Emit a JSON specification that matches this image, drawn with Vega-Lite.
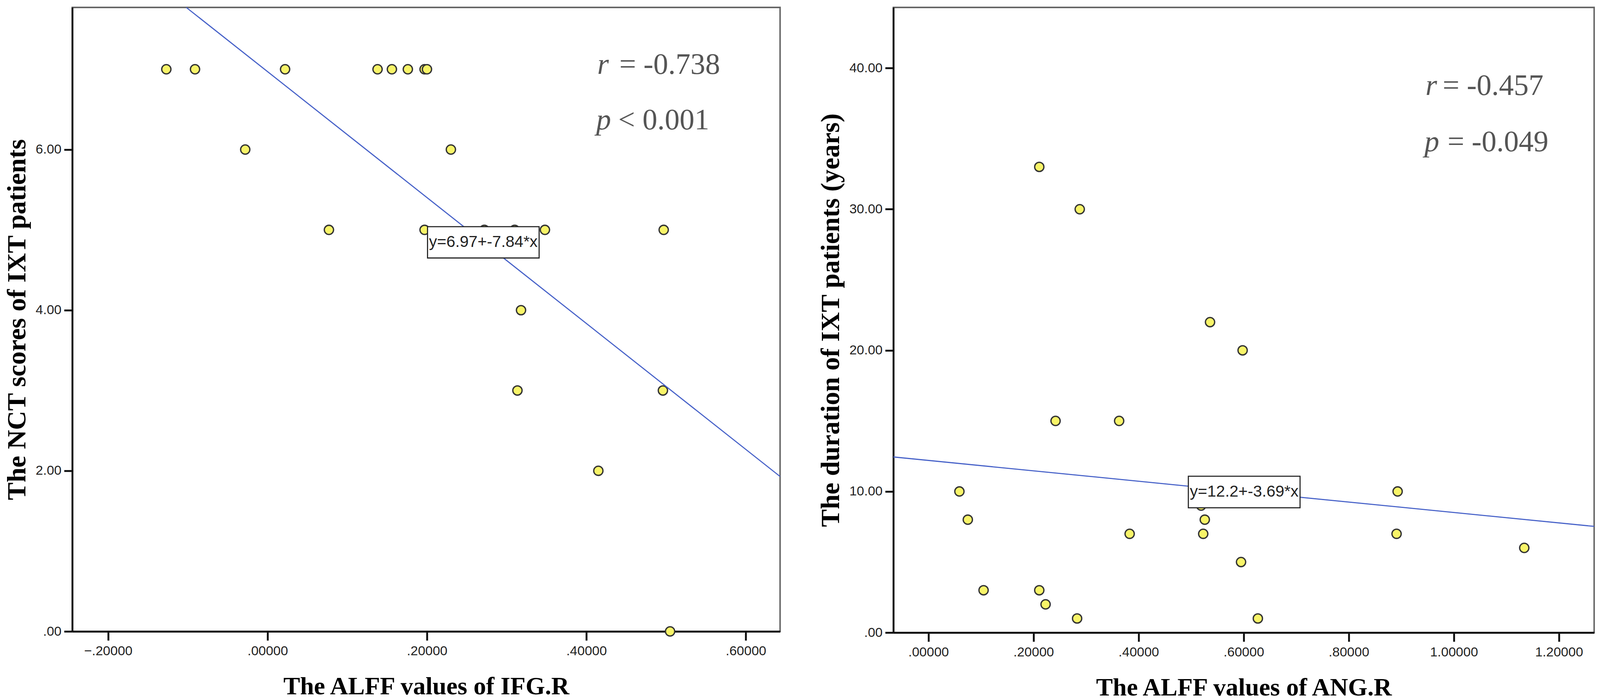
{
  "$schema": "https://vega.github.io/schema/vega-lite/v6.json",
  "padding": {"left": 8, "top": 11, "right": 0, "bottom": 0},
  "background": "white",
  "spacing": 87,
  "datasets": {
    "ifg": [
      {"alff": -0.127, "nct": 7}, {"alff": -0.091, "nct": 7}, {"alff": 0.022, "nct": 7},
      {"alff": 0.138, "nct": 7}, {"alff": 0.156, "nct": 7}, {"alff": 0.176, "nct": 7},
      {"alff": 0.197, "nct": 7}, {"alff": 0.200, "nct": 7},
      {"alff": -0.028, "nct": 6}, {"alff": 0.230, "nct": 6},
      {"alff": 0.077, "nct": 5}, {"alff": 0.197, "nct": 5}, {"alff": 0.272, "nct": 5},
      {"alff": 0.310, "nct": 5}, {"alff": 0.348, "nct": 5}, {"alff": 0.497, "nct": 5},
      {"alff": 0.318, "nct": 4},
      {"alff": 0.3135, "nct": 3}, {"alff": 0.496, "nct": 3},
      {"alff": 0.415, "nct": 2},
      {"alff": 0.505, "nct": 0}
    ],
    "ang": [
      {"alff": 0.211, "years": 33}, {"alff": 0.288, "years": 30}, {"alff": 0.536, "years": 22},
      {"alff": 0.598, "years": 20}, {"alff": 0.242, "years": 15}, {"alff": 0.363, "years": 15},
      {"alff": 0.059, "years": 10}, {"alff": 0.893, "years": 10}, {"alff": 0.519, "years": 9},
      {"alff": 0.075, "years": 8}, {"alff": 0.526, "years": 8}, {"alff": 0.383, "years": 7},
      {"alff": 0.523, "years": 7}, {"alff": 0.891, "years": 7}, {"alff": 1.134, "years": 6},
      {"alff": 0.595, "years": 5}, {"alff": 0.105, "years": 3}, {"alff": 0.211, "years": 3},
      {"alff": 0.223, "years": 2}, {"alff": 0.283, "years": 1}, {"alff": 0.627, "years": 1}
    ],
    "fitIfg": [{"alff": -0.102, "nct": 7.77}, {"alff": 0.643, "nct": 1.929}],
    "fitAng": [{"alff": -0.0667, "years": 12.446}, {"alff": 1.267, "years": 7.525}],
    "one": [{}]
  },
  "hconcat": [
    {
      "width": 1812,
      "height": 1597,
      "layer": [
        {
          "data": {"name": "ifg"},
          "mark": {"type": "circle", "size": 560, "fill": "#F8F468", "stroke": "#333333", "strokeWidth": 3.3, "opacity": 1},
          "encoding": {
            "x": {"field": "alff", "type": "quantitative", "title": "The ALFF values of IFG.R",
              "scale": {"domain": [-0.245, 0.643], "nice": false, "zero": false},
              "axis": {"values": [-0.2, 0, 0.2, 0.4, 0.6],
                "labelExpr": "abs(datum.value) < 1 ? replace(format(datum.value, '.5f'), '0.', '.') : format(datum.value, '.5f')"}},
            "y": {"field": "nct", "type": "quantitative", "title": "The NCT scores of IXT patients",
              "scale": {"domain": [0, 7.77], "nice": false, "zero": false},
              "axis": {"values": [0, 2, 4, 6],
                "labelExpr": "abs(datum.value) < 1 ? replace(format(datum.value, '.2f'), '0.', '.') : format(datum.value, '.2f')"}}
          }
        },
        {
          "data": {"name": "fitIfg"},
          "mark": {"type": "line", "color": "#4560C8", "strokeWidth": 2.8},
          "encoding": {
            "x": {"field": "alff", "type": "quantitative", "title": "The ALFF values of IFG.R", "scale": {"domain": [-0.245, 0.643], "nice": false, "zero": false}},
            "y": {"field": "nct", "type": "quantitative", "title": "The NCT scores of IXT patients", "scale": {"domain": [0, 7.77], "nice": false, "zero": false}}
          }
        },
        {
          "data": {"name": "one"},
          "mark": {"type": "rect", "fill": "white", "stroke": "#222222", "strokeWidth": 2.8},
          "encoding": {
            "x": {"datum": 0.2007, "type": "quantitative", "title": "The ALFF values of IFG.R", "scale": {"domain": [-0.245, 0.643], "nice": false, "zero": false}},
            "x2": {"datum": 0.3407},
            "y": {"datum": 5.04, "type": "quantitative", "title": "The NCT scores of IXT patients", "scale": {"domain": [0, 7.77], "nice": false, "zero": false}},
            "y2": {"datum": 4.65}
          }
        },
        {
          "data": {"name": "one"},
          "mark": {"type": "text", "text": "y=6.97+-7.84*x", "font": "Liberation Sans", "fontSize": 41, "color": "#222222", "align": "center", "baseline": "middle"},
          "encoding": {
            "x": {"datum": 0.2707, "type": "quantitative", "title": "The ALFF values of IFG.R", "scale": {"domain": [-0.245, 0.643], "nice": false, "zero": false}},
            "y": {"datum": 4.845, "type": "quantitative", "title": "The NCT scores of IXT patients", "scale": {"domain": [0, 7.77], "nice": false, "zero": false}}
          }
        },
        {
          "data": {"name": "one"},
          "mark": {"type": "text", "text": "r", "font": "Liberation Serif", "fontStyle": "italic", "fontSize": 76, "color": "#555555", "align": "left", "baseline": "alphabetic"},
          "encoding": {
            "x": {"datum": 0.4136, "type": "quantitative", "title": "The ALFF values of IFG.R", "scale": {"domain": [-0.245, 0.643], "nice": false, "zero": false}},
            "y": {"datum": 6.944, "type": "quantitative", "title": "The NCT scores of IXT patients", "scale": {"domain": [0, 7.77], "nice": false, "zero": false}}
          }
        },
        {
          "data": {"name": "one"},
          "mark": {"type": "text", "text": "= -0.738", "font": "Liberation Serif", "fontSize": 76, "color": "#555555", "align": "left", "baseline": "alphabetic"},
          "encoding": {
            "x": {"datum": 0.4413, "type": "quantitative", "title": "The ALFF values of IFG.R", "scale": {"domain": [-0.245, 0.643], "nice": false, "zero": false}},
            "y": {"datum": 6.944, "type": "quantitative", "title": "The NCT scores of IXT patients", "scale": {"domain": [0, 7.77], "nice": false, "zero": false}}
          }
        },
        {
          "data": {"name": "one"},
          "mark": {"type": "text", "text": "p", "font": "Liberation Serif", "fontStyle": "italic", "fontSize": 76, "color": "#555555", "align": "left", "baseline": "alphabetic"},
          "encoding": {
            "x": {"datum": 0.4123, "type": "quantitative", "title": "The ALFF values of IFG.R", "scale": {"domain": [-0.245, 0.643], "nice": false, "zero": false}},
            "y": {"datum": 6.253, "type": "quantitative", "title": "The NCT scores of IXT patients", "scale": {"domain": [0, 7.77], "nice": false, "zero": false}}
          }
        },
        {
          "data": {"name": "one"},
          "mark": {"type": "text", "text": "< 0.001", "font": "Liberation Serif", "fontSize": 76, "color": "#555555", "align": "left", "baseline": "alphabetic"},
          "encoding": {
            "x": {"datum": 0.440, "type": "quantitative", "title": "The ALFF values of IFG.R", "scale": {"domain": [-0.245, 0.643], "nice": false, "zero": false}},
            "y": {"datum": 6.253, "type": "quantitative", "title": "The NCT scores of IXT patients", "scale": {"domain": [0, 7.77], "nice": false, "zero": false}}
          }
        }
      ]
    },
    {
      "width": 1794,
      "height": 1600,
      "layer": [
        {
          "data": {"name": "ang"},
          "mark": {"type": "circle", "size": 560, "fill": "#F8F468", "stroke": "#333333", "strokeWidth": 3.3, "opacity": 1},
          "encoding": {
            "x": {"field": "alff", "type": "quantitative", "title": "The ALFF values of ANG.R",
              "scale": {"domain": [-0.0667, 1.267], "nice": false, "zero": false},
              "axis": {"values": [0, 0.2, 0.4, 0.6, 0.8, 1.0, 1.2],
                "labelExpr": "abs(datum.value) < 1 ? replace(format(datum.value, '.5f'), '0.', '.') : format(datum.value, '.5f')"}},
            "y": {"field": "years", "type": "quantitative", "title": "The duration of IXT patients (years)",
              "scale": {"domain": [0, 44.3], "nice": false, "zero": false},
              "axis": {"values": [0, 10, 20, 30, 40],
                "labelExpr": "abs(datum.value) < 1 ? replace(format(datum.value, '.2f'), '0.', '.') : format(datum.value, '.2f')"}}
          }
        },
        {
          "data": {"name": "fitAng"},
          "mark": {"type": "line", "color": "#4560C8", "strokeWidth": 2.8},
          "encoding": {
            "x": {"field": "alff", "type": "quantitative", "title": "The ALFF values of ANG.R", "scale": {"domain": [-0.0667, 1.267], "nice": false, "zero": false}},
            "y": {"field": "years", "type": "quantitative", "title": "The duration of IXT patients (years)", "scale": {"domain": [0, 44.3], "nice": false, "zero": false}}
          }
        },
        {
          "data": {"name": "one"},
          "mark": {"type": "rect", "fill": "white", "stroke": "#222222", "strokeWidth": 2.8},
          "encoding": {
            "x": {"datum": 0.4947, "type": "quantitative", "title": "The ALFF values of ANG.R", "scale": {"domain": [-0.0667, 1.267], "nice": false, "zero": false}},
            "x2": {"datum": 0.7073},
            "y": {"datum": 11.08, "type": "quantitative", "title": "The duration of IXT patients (years)", "scale": {"domain": [0, 44.3], "nice": false, "zero": false}},
            "y2": {"datum": 8.84}
          }
        },
        {
          "data": {"name": "one"},
          "mark": {"type": "text", "text": "y=12.2+-3.69*x", "font": "Liberation Sans", "fontSize": 41, "color": "#222222", "align": "center", "baseline": "middle"},
          "encoding": {
            "x": {"datum": 0.601, "type": "quantitative", "title": "The ALFF values of ANG.R", "scale": {"domain": [-0.0667, 1.267], "nice": false, "zero": false}},
            "y": {"datum": 9.96, "type": "quantitative", "title": "The duration of IXT patients (years)", "scale": {"domain": [0, 44.3], "nice": false, "zero": false}}
          }
        },
        {
          "data": {"name": "one"},
          "mark": {"type": "text", "text": "r", "font": "Liberation Serif", "fontStyle": "italic", "fontSize": 76, "color": "#555555", "align": "left", "baseline": "alphabetic"},
          "encoding": {
            "x": {"datum": 0.946, "type": "quantitative", "title": "The ALFF values of ANG.R", "scale": {"domain": [-0.0667, 1.267], "nice": false, "zero": false}},
            "y": {"datum": 38.09, "type": "quantitative", "title": "The duration of IXT patients (years)", "scale": {"domain": [0, 44.3], "nice": false, "zero": false}}
          }
        },
        {
          "data": {"name": "one"},
          "mark": {"type": "text", "text": "= -0.457", "font": "Liberation Serif", "fontSize": 76, "color": "#555555", "align": "left", "baseline": "alphabetic"},
          "encoding": {
            "x": {"datum": 0.9787, "type": "quantitative", "title": "The ALFF values of ANG.R", "scale": {"domain": [-0.0667, 1.267], "nice": false, "zero": false}},
            "y": {"datum": 38.09, "type": "quantitative", "title": "The duration of IXT patients (years)", "scale": {"domain": [0, 44.3], "nice": false, "zero": false}}
          }
        },
        {
          "data": {"name": "one"},
          "mark": {"type": "text", "text": "p", "font": "Liberation Serif", "fontStyle": "italic", "fontSize": 76, "color": "#555555", "align": "left", "baseline": "alphabetic"},
          "encoding": {
            "x": {"datum": 0.944, "type": "quantitative", "title": "The ALFF values of ANG.R", "scale": {"domain": [-0.0667, 1.267], "nice": false, "zero": false}},
            "y": {"datum": 34.1, "type": "quantitative", "title": "The duration of IXT patients (years)", "scale": {"domain": [0, 44.3], "nice": false, "zero": false}}
          }
        },
        {
          "data": {"name": "one"},
          "mark": {"type": "text", "text": "= -0.049", "font": "Liberation Serif", "fontSize": 76, "color": "#555555", "align": "left", "baseline": "alphabetic"},
          "encoding": {
            "x": {"datum": 0.988, "type": "quantitative", "title": "The ALFF values of ANG.R", "scale": {"domain": [-0.0667, 1.267], "nice": false, "zero": false}},
            "y": {"datum": 34.1, "type": "quantitative", "title": "The duration of IXT patients (years)", "scale": {"domain": [0, 44.3], "nice": false, "zero": false}}
          }
        }
      ]
    }
  ],
  "config": {
    "view": {"stroke": "#666666", "strokeWidth": 3.8},
    "axis": {
      "grid": false,
      "domainColor": "#111111",
      "domainWidth": 4.8,
      "tickColor": "#111111",
      "tickWidth": 4.8,
      "labelFont": "Liberation Sans",
      "labelFontSize": 34,
      "labelColor": "#222222",
      "labelOverlap": false,
      "labelFlush": false,
      "titleFont": "Liberation Serif",
      "titleFontWeight": "bold",
      "titleColor": "#000000"
    },
    "axisY": {"tickSize": 21, "labelPadding": 7, "titlePadding": 12, "titleFontSize": 68},
    "axisX": {"tickSize": 23, "labelPadding": 10, "titlePadding": 42, "titleFontSize": 64}
  }
}
